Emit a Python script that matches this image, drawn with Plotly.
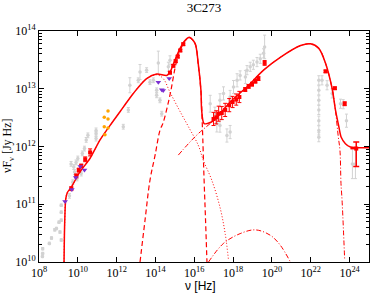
import plotly.graph_objects as go

# ---------------- model curves ----------------
total_nu = [1.95e9, 2.1e9, 2.4e9, 2.9e9, 4.7e9, 1.26e10, 4.2e10, 1.4e11, 4.5e11, 2.2e12, 7.2e12,
            3.5e13, 1.16e14, 3.8e14, 5.6e14, 1.0e15, 1.85e15, 3.4e15, 5.6e15, 1.1e16, 1.6e16,
            2.2e16, 2.4e16, 3.2e16, 6.6e16, 1.46e17, 7.1e17, 5.1e18, 3.7e19, 2.7e20, 3.0e21,
            9.6e21, 2.6e22, 5.7e22, 1.27e23, 1.87e23, 2.8e23, 3.7e23, 6.1e23, 1.1e24, 1.2e25]
total_f = [1e10, 4.6e10, 1.25e11, 1.6e11, 2.0e11, 3.6e11, 6.2e11, 1.3e12, 2.3e12, 4.8e12, 8.3e12,
           1.5e13, 1.8e13, 1.7e13, 1.95e13, 3.1e13, 5.0e13, 6.9e13, 7.8e13, 6.1e13, 2.7e13,
           9.4e12, 4.2e12, 2.5e12, 2.6e12, 3.2e12, 5.9e12, 1.07e13, 2.1e13, 3.5e13, 5.6e13,
           6.0e13, 5.0e13, 2.8e13, 1.0e13, 4.3e12, 2.2e12, 1.45e12, 1.12e12, 9.8e11, 9.5e11]

sync_nu = [1.95e9, 2.1e9, 2.4e9, 2.9e9, 4.7e9, 1.26e10, 4.2e10, 1.4e11, 4.5e11, 2.2e12, 7.2e12,
           3.5e13, 1.16e14, 2.5e14, 5.6e14, 1.5e15, 5.0e15, 1.6e16, 2.9e16, 8e16, 2.1e17,
           3.9e17, 5.8e17]
sync_f = [1e10, 4.6e10, 1.25e11, 1.6e11, 2.0e11, 3.6e11, 6.2e11, 1.3e12, 2.3e12, 4.8e12, 8.3e12,
          1.5e13, 1.75e13, 1.5e13, 8.7e12, 4.6e12, 2.2e12, 1.05e12, 5.8e11, 2.6e11, 8.9e10,
          3.1e10, 1.07e10]

disk_nu = [1.6e13, 2.9e13, 5.2e13, 9.5e13, 1.7e14, 2.5e14, 5.6e14, 1.0e15, 1.5e15, 3.4e15,
           5.6e15, 1.1e16, 1.6e16, 2.2e16, 2.6e16, 3.2e16, 3.8e16, 4.5e16]
disk_f = [1e10, 5.3e10, 2.6e11, 7.0e11, 1.9e12, 2.6e12, 7.8e12, 2.2e13, 3.8e13, 6.8e13,
          7.7e13, 6.0e13, 2.6e13, 9.0e12, 2.3e12, 2.6e11, 5.3e10, 1e10]

ec_nu = [1.5e15, 5.0e15, 1.6e16, 9.8e16, 1.46e17, 7.1e17, 5.1e18, 3.7e19, 2.7e20, 3.0e21,
         9.6e21, 2.6e22, 5.7e22, 1.27e23, 1.87e23, 2.6e23, 3.2e23, 3.6e23, 4.1e23, 5.6e23]
ec_f = [7.1e11, 1.12e12, 1.67e12, 2.8e12, 3.2e12, 5.9e12, 1.07e13, 2.1e13, 3.5e13, 5.6e13,
        6.0e13, 5.0e13, 2.8e13, 1.0e13, 4.2e12, 1.5e12, 8.5e11, 2.3e11, 1.17e11, 1.07e10]

ssc_nu = [5.4e16, 3.2e17, 2.3e18, 1.4e19, 8.3e19, 2.7e20, 8.9e20]
ssc_f = [1e10, 2.1e10, 3.1e10, 3.6e10, 2.9e10, 1.95e10, 1e10]

# ---------------- data points ----------------
gray_nu = [1.55e8, 1.55e8, 1.5e8, 3.4e8, 4.4e8, 6.5e8, 7.9e8, 1.07e9, 1.4e9, 1.4e9, 1.4e9, 1.4e9, 1.2e9,
           4.5e9, 6.2e9, 8.1e9, 1.0e10, 1.7e10, 2.2e10, 2.7e10, 3.3e10, 8.7e10, 8.7e10, 8.7e10,
           3.7e9, 5.5e9, 9.1e9, 1.5e10, 6.8e9,
           2.2e12, 4.0e12, 4.8e12, 1.3e13, 1.6e13, 3.5e13, 5.2e13, 7.8e13, 1.15e14, 1.4e14, 1.15e14,
           1.7e14, 2.1e14, 4.6e14, 5.6e14,
           6.6e16, 1.45e17, 2.1e17, 3.2e17, 7.0e17, 7.0e17, 1.05e18, 1.6e18, 2.3e18, 4.3e18, 5.2e18,
           7.6e18, 1.1e19, 1.7e19, 2.5e19, 3.7e19, 4.2e19, 2.1e17, 4.8e17, 1.15e17,
           2.6e22, 2.6e22, 2.6e22, 2.6e22, 2.6e22, 2.6e22, 2.6e22, 3.8e22, 6.9e22, 1.26e23, 3.4e23,
           4.7e23, 6.9e23, 1.4e24, 2.0e24]
gray_f = [1.4e10, 1.7e10, 1.25e10, 2.1e10, 2.6e10, 3.6e10, 3.8e10, 4.9e10, 5.3e10, 7.3e10, 9.6e10, 2.4e10, 3.3e10,
          5.0e11, 4.4e11, 5.3e11, 6.2e11, 7.6e11, 9.2e11, 1.3e12, 1.56e12, 1.66e12, 1.37e12, 1.9e12,
          1.4e11, 2.4e11, 2.8e11, 3.4e11, 3.6e11,
          2.2e12, 4.3e12, 1.15e13, 1.4e13, 1.95e13, 2.1e13, 1.3e13, 1.4e13, 9.4e12, 2.8e13, 7.7e12,
          6.3e12, 3.7e12, 2.4e13, 3.1e13,
          5.5e12, 2.5e12, 6.3e12, 8.3e12, 7.2e12, 1.78e12, 1.07e13, 1.4e13, 1.7e13, 1.6e13, 2.1e13,
          2.4e13, 2.6e13, 2.9e13, 3.3e13, 4.1e13, 5.3e13, 2.3e12, 1.55e12, 3.7e12,
          1.4e13, 9.4e12, 6.3e12, 4.3e12, 2.8e12, 1.9e12, 1.45e12, 1.4e13, 1.15e13, 8.3e12, 5.5e12,
          5.4e12, 2.8e12, 5.0e11, 5.0e11]
gray_err = [0.05, 0.05, 0.05, 0.05, 0.05, 0.05, 0.05, 0.05, 0.05, 0.05, 0.05, 0.05, 0.05,
            0.1, 0.1, 0.1, 0.1, 0.1, 0.1, 0.1, 0.1, 0.1, 0.1, 0.1,
            0.1, 0.1, 0.1, 0.1, 0.1,
            0.1, 0.1, 0.35, 0.1, 0.35, 0.1, 0.1, 0.1, 0.1, 0.6, 0.1,
            0.1, 0.1, 0.2, 0.2,
            0.4, 0.4, 0.3, 0.3, 0.3, 0.3, 0.3, 0.3, 0.2, 0.3, 0.2,
            0.2, 0.2, 0.2, 0.2, 0.2, 0.6, 0.3, 0.3, 0.3,
            0.2, 0.2, 0.2, 0.2, 0.2, 0.2, 0.2, 0.2, 0.2, 0.2, 0.2,
            0.2, 0.3, 0.8, 0.8]

red_nu = [4.6e9, 8.3e9, 1.12e10, 1.5e10, 2.4e10, 4.3e10,
          5.6e14, 8.3e14, 1.1e15, 1.4e15, 1.9e15, 2.7e15,
          9.8e16, 1.35e17, 1.8e17, 2.6e17, 3.9e17, 6.3e17, 9.4e17, 1.45e18, 2.1e18,
          4.2e18, 6.3e18, 9.4e18, 1.4e19, 2.0e19, 4.2e19,
          5.8e22, 1.75e23, 5.6e23]
red_f = [1.86e11, 3.1e11, 3.9e11, 4.6e11, 6.0e11, 7.9e11,
         1.9e13, 2.5e13, 3.0e13, 3.6e13, 4.6e13, 5.9e13,
         3.0e12, 3.2e12, 3.7e12, 3.8e12, 4.3e12, 5.2e12, 5.9e12, 6.5e12, 7.2e12,
         9.7e12, 1.1e13, 1.2e13, 1.35e13, 1.5e13, 2.8e13,
         2.0e13, 1.02e13, 5.5e12]
red_err = [0.08, 0.08, 0.08, 0.08, 0.1, 0.15,
           0.05, 0.05, 0.05, 0.05, 0.05, 0.05,
           0.3, 0.3, 0.35, 0.3, 0.3, 0.3, 0.25, 0.25, 0.25,
           0.08, 0.08, 0.08, 0.08, 0.08, 0.1,
           0.05, 0.05, 0.08]

gam_nu = [2.2e24]
gam_f = [9.2e11]
gam_up = [1.2e12]
gam_dn = [4.5e11]
gam_xlo = [1.1e24]
gam_xhi = [2.3e24]

purple_nu = [2.2e9, 4.9e9, 7.8e9, 1.35e10, 2.2e10, 1.4e14, 2.1e14, 2.5e14, 5.1e14]
purple_f = [1.12e11, 1.8e11, 2.9e11, 4.5e11, 3.9e11, 1.3e13, 9.6e12, 9.3e12, 1.5e13]

orange_nu = [3.6e11, 2.3e11, 3.6e11, 2.3e11, 3.6e11, 2.5e11]
orange_f = [4.1e12, 3.2e12, 3.0e12, 2.2e12, 2.1e12, 1.6e12]

x_tick_exp = [8, 10, 12, 14, 16, 18, 20, 22, 24]
y_tick_exp = [10, 11, 12, 13, 14]

RED = "#ff0000"
GRAY = "#d2d2d2"

fig = go.Figure()

fig.add_trace(go.Scatter(
    x=gray_nu, y=gray_f, mode="markers",
    marker=dict(color=GRAY, size=3.5),
    error_y=dict(type="data", array=[f * e for f, e in zip(gray_f, gray_err)],
                 arrayminus=[f * e / (1 + e) for f, e in zip(gray_f, gray_err)],
                 color=GRAY, thickness=1, width=1.5),
    hoverinfo="skip"))

line_common = dict(mode="lines", line_shape="spline", hoverinfo="skip")
fig.add_trace(go.Scatter(x=sync_nu, y=sync_f, line=dict(color=RED, width=1, dash="1px,2px", smoothing=1), **line_common))
fig.add_trace(go.Scatter(x=disk_nu, y=disk_f, line=dict(color=RED, width=1.2, dash="5px,3px", smoothing=1), **line_common))
fig.add_trace(go.Scatter(x=ec_nu, y=ec_f, line=dict(color=RED, width=1, dash="5px,2px,1px,2px", smoothing=1), **line_common))
fig.add_trace(go.Scatter(x=ssc_nu, y=ssc_f, line=dict(color=RED, width=1, dash="5px,2px,1px,2px", smoothing=1), **line_common))
fig.add_trace(go.Scatter(x=total_nu, y=total_f, line=dict(color=RED, width=1.5, smoothing=0.8), **line_common))

fig.add_trace(go.Scatter(
    x=red_nu, y=red_f, mode="markers",
    marker=dict(color=RED, size=4, symbol="square"),
    error_y=dict(type="data", array=[f * e for f, e in zip(red_f, red_err)],
                 arrayminus=[f * e / (1 + e) for f, e in zip(red_f, red_err)],
                 color=RED, thickness=1, width=2),
    hoverinfo="skip"))

fig.add_trace(go.Scatter(
    x=gam_nu, y=gam_f, mode="markers",
    marker=dict(color=RED, size=4, symbol="square"),
    error_y=dict(type="data", array=[u - f for u, f in zip(gam_up, gam_f)],
                 arrayminus=[f - d for f, d in zip(gam_f, gam_dn)],
                 color=RED, thickness=1.5, width=3),
    error_x=dict(type="data", array=[h - n for h, n in zip(gam_xhi, gam_nu)],
                 arrayminus=[n - l for n, l in zip(gam_nu, gam_xlo)],
                 color=RED, thickness=1.5, width=0),
    hoverinfo="skip"))

fig.add_trace(go.Scatter(
    x=purple_nu, y=purple_f, mode="markers",
    marker=dict(color="#7b2fd0", size=5, symbol="triangle-down"),
    hoverinfo="skip"))

fig.add_trace(go.Scatter(
    x=orange_nu, y=orange_f, mode="markers",
    marker=dict(color="#ffa500", size=3.5),
    hoverinfo="skip"))

serif = "Liberation Serif"
axis_common = dict(type="log", showline=True, linecolor="black", linewidth=1, mirror="ticks",
                   ticks="inside", ticklen=5, tickcolor="black", showgrid=False, zeroline=False,
                   tickfont=dict(family=serif, size=12, color="black"))

fig.update_layout(
    width=371, height=293,
    margin=dict(l=39, r=2, t=31, b=31),
    paper_bgcolor="white", plot_bgcolor="white",
    showlegend=False,
    title=dict(text="3C273", font=dict(family=serif, size=13, color="black"),
               x=0.55, xanchor="center", y=0.975, yanchor="middle", yref="container"),
    xaxis=dict(range=[8, 25],
               tickvals=[10.0 ** e for e in x_tick_exp],
               ticktext=[f"10<sup>{e}</sup>" for e in x_tick_exp],
               **axis_common),
    yaxis=dict(range=[10, 14],
               tickvals=[10.0 ** e for e in y_tick_exp],
               ticktext=[f"10<sup>{e}</sup>" for e in y_tick_exp],
               minor=dict(tickvals=[k * 10.0 ** e for e in range(10, 14) for k in range(2, 10)],
                          ticks="inside", ticklen=3, tickcolor="black"),
               **axis_common),
    annotations=[
        dict(text="ν [Hz]", xref="paper", yref="paper", x=0.49, y=-0.104,
             xanchor="center", yanchor="middle", showarrow=False,
             font=dict(family="Liberation Sans", size=12, color="black")),
        dict(text="νF<sub>ν</sub> [Jy Hz]", xref="paper", yref="paper", x=-0.092, y=0.505,
             xanchor="center", yanchor="middle", showarrow=False, textangle=-90,
             font=dict(family=serif, size=12, color="black")),
    ],
)

fig.write_html("out.html", config={"displayModeBar": False},
               post_script="document.body.style.margin='0px';")
